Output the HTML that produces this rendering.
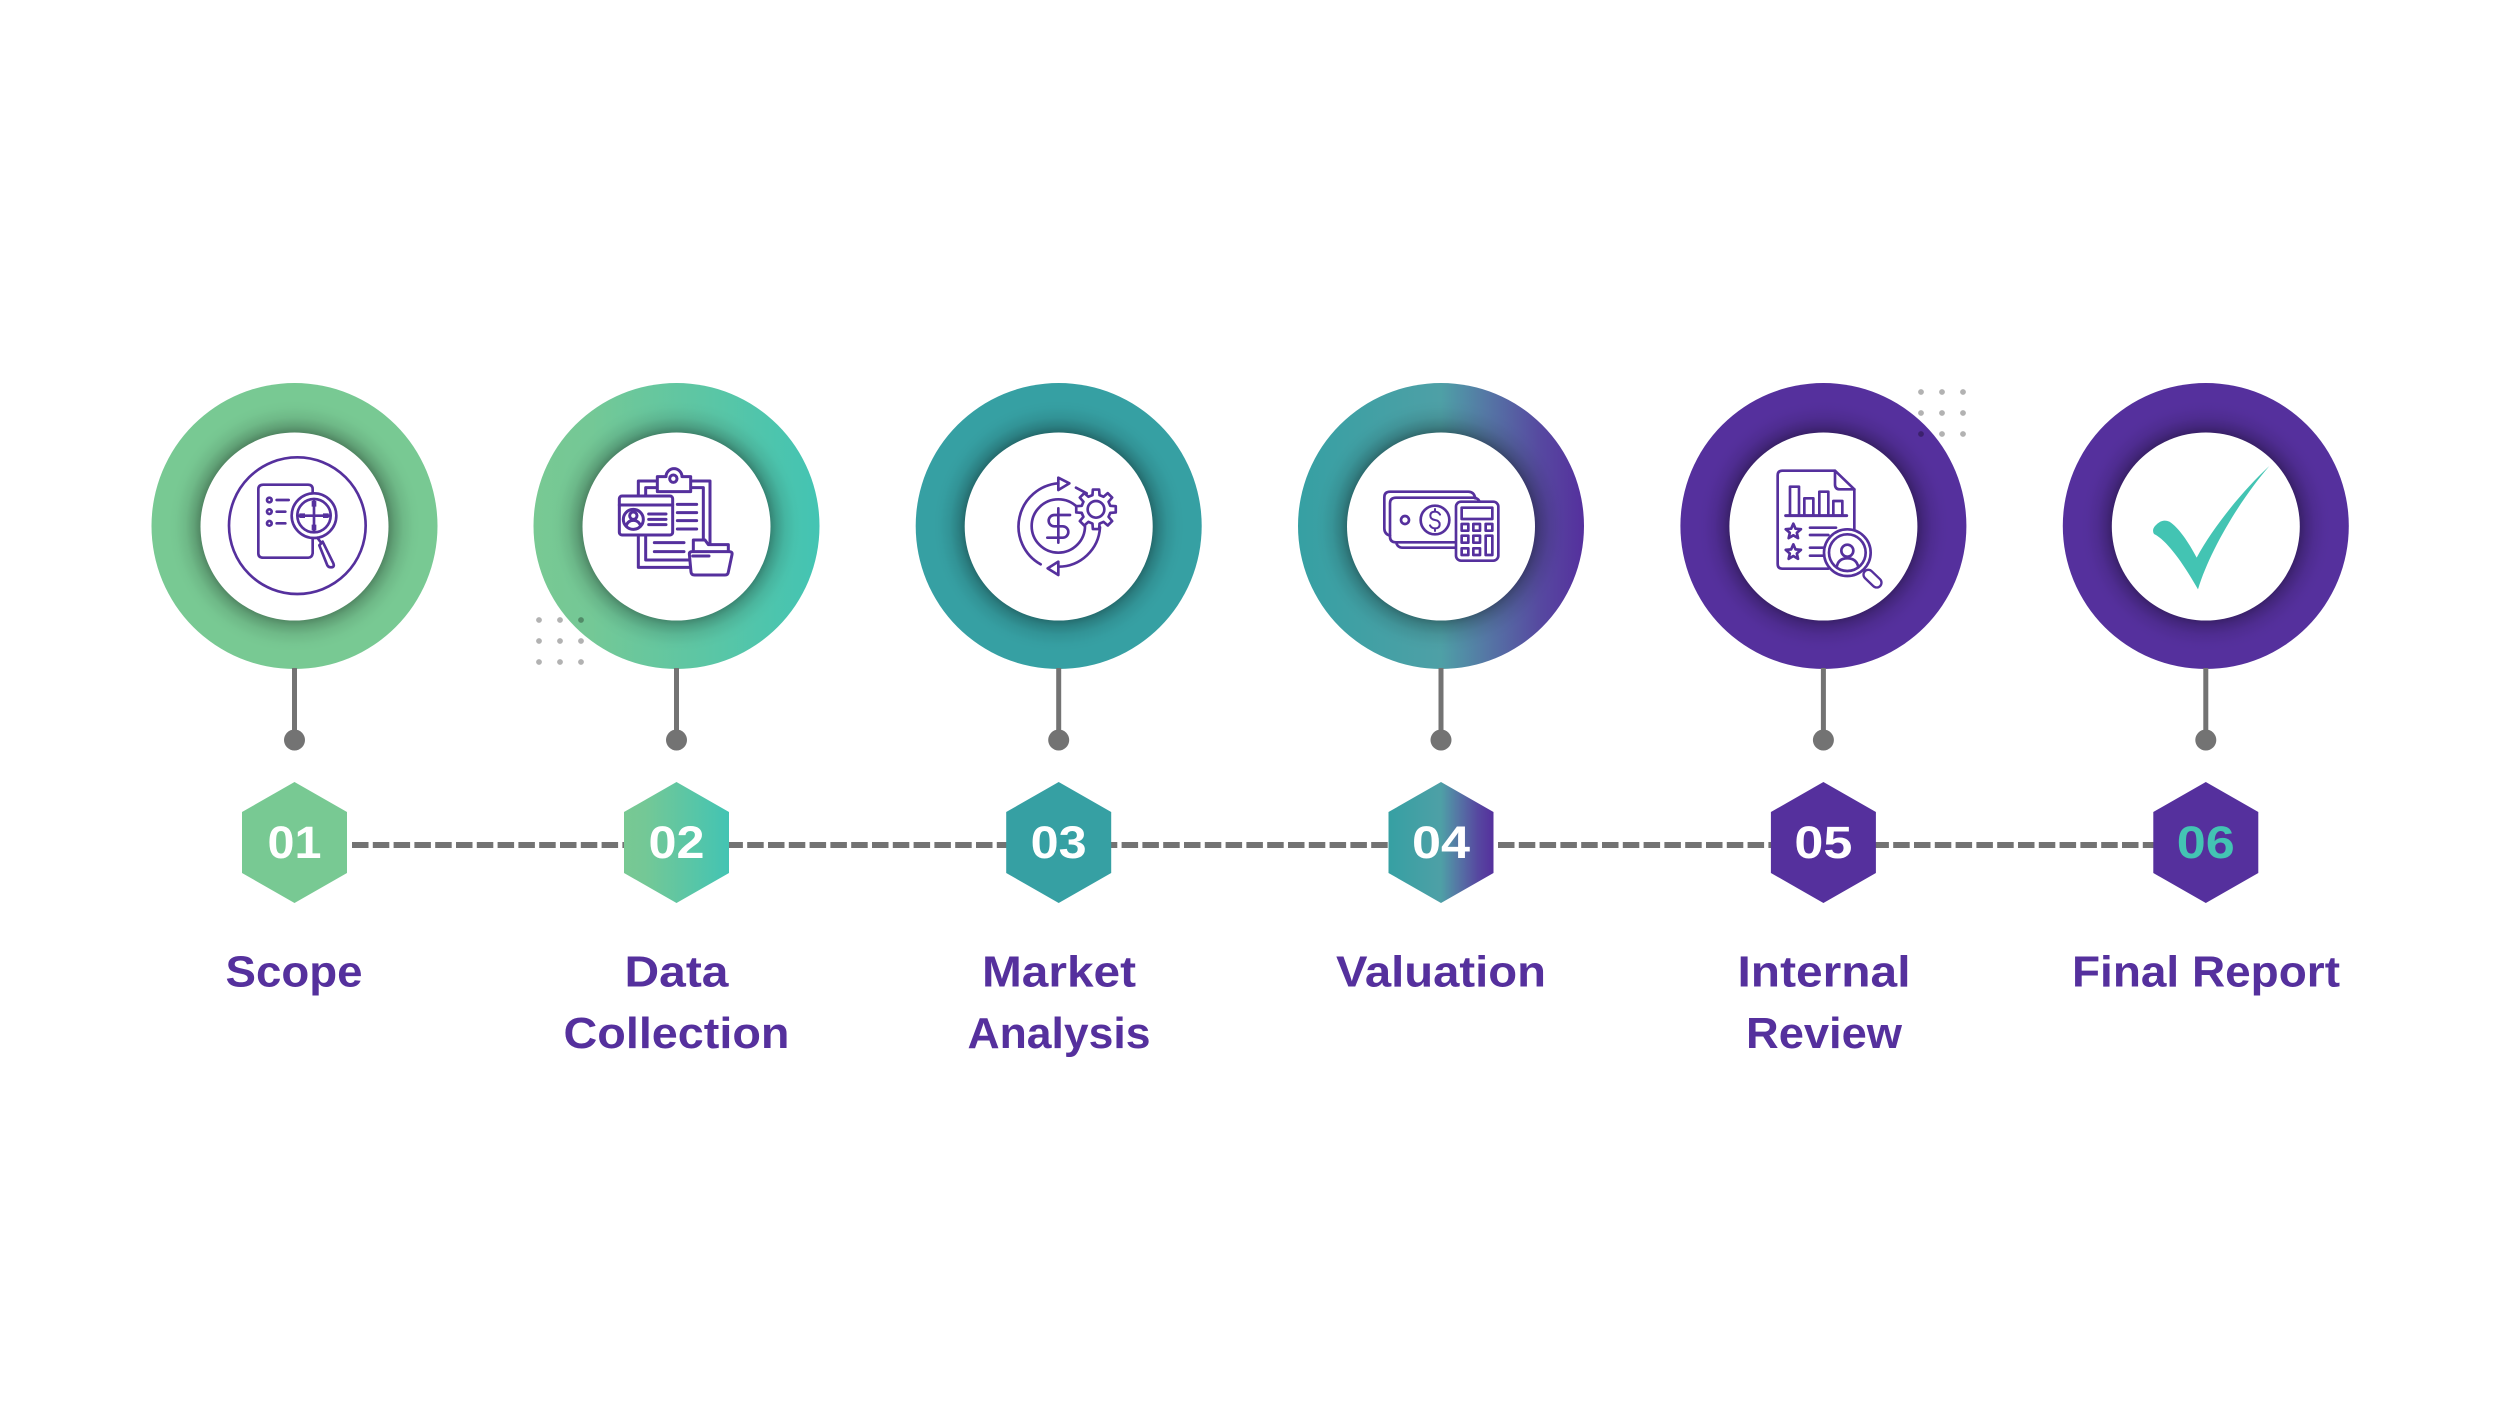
<!DOCTYPE html>
<html lang="en">
<head>
<meta charset="utf-8">
<title>Process timeline</title>
<style>
html,body{margin:0;padding:0;background:#fff;width:2500px;height:1406px;overflow:hidden}
svg{display:block}
text{font-family:"Liberation Sans",sans-serif;font-weight:700;text-anchor:middle}
.l{font-size:44px;fill:#55309d}
.n{font-size:45px;fill:#fff}
.i{fill:none;stroke:#55309d;stroke-width:8;stroke-linecap:round;stroke-linejoin:round}
.w{fill:#fff}
</style>
</head>
<body>
<svg width="2500" height="1406" viewBox="0 0 2500 1406" xmlns="http://www.w3.org/2000/svg">
<defs>
<linearGradient id="g2" x1="0" y1="0" x2="1" y2="0"><stop offset="0" stop-color="#78c993"/><stop offset=".2" stop-color="#74c896"/><stop offset="1" stop-color="#43c4b3"/></linearGradient>
<linearGradient id="g4" x1="0" y1="0" x2="1" y2="0"><stop offset="0" stop-color="#36a0a3"/><stop offset=".5" stop-color="#4ea0a6"/><stop offset=".66" stop-color="#5577a5"/><stop offset=".85" stop-color="#5648a0"/><stop offset="1" stop-color="#55309d"/></linearGradient>
<radialGradient id="sh"><stop offset=".657" stop-color="#000" stop-opacity=".33"/><stop offset=".7" stop-color="#000" stop-opacity=".2"/><stop offset=".76" stop-color="#000" stop-opacity=".08"/><stop offset=".83" stop-color="#000" stop-opacity=".015"/><stop offset=".88" stop-color="#000" stop-opacity="0"/></radialGradient>
</defs>

<!-- dashed line -->
<line x1="352" y1="845" x2="1392" y2="845" stroke="#737373" stroke-width="6" stroke-dasharray="16.5 4.3"/>
<line x1="1498" y1="845" x2="2155" y2="845" stroke="#737373" stroke-width="6" stroke-dasharray="16.5 4.3"/>

<!-- rings -->
<g>
<circle cx="294.5" cy="526" r="143" fill="#78c993"/><circle cx="294.5" cy="526" r="143" fill="url(#sh)"/><circle cx="294.5" cy="526.5" r="94" fill="#fff"/>
<circle cx="676.5" cy="526" r="143" fill="url(#g2)"/><circle cx="676.5" cy="526" r="143" fill="url(#sh)"/><circle cx="676.5" cy="526.5" r="94" fill="#fff"/>
<circle cx="1058.7" cy="526" r="143" fill="#36a0a3"/><circle cx="1058.7" cy="526" r="143" fill="url(#sh)"/><circle cx="1058.7" cy="526.5" r="94" fill="#fff"/>
<circle cx="1441" cy="526" r="143" fill="url(#g4)"/><circle cx="1441" cy="526" r="143" fill="url(#sh)"/><circle cx="1441" cy="526.5" r="94" fill="#fff"/>
<circle cx="1823.4" cy="526" r="143" fill="#55309d"/><circle cx="1823.4" cy="526" r="143" fill="url(#sh)"/><circle cx="1823.4" cy="526.5" r="94" fill="#fff"/>
<circle cx="2205.8" cy="526" r="143" fill="#55309d"/><circle cx="2205.8" cy="526" r="143" fill="url(#sh)"/><circle cx="2205.8" cy="526.5" r="94" fill="#fff"/>
</g>

<!-- stems -->
<g stroke="#737373" stroke-width="5"><line x1="294.5" y1="668" x2="294.5" y2="738"/><line x1="676.5" y1="668" x2="676.5" y2="738"/><line x1="1058.7" y1="668" x2="1058.7" y2="738"/><line x1="1441" y1="668" x2="1441" y2="738"/><line x1="1823.4" y1="668" x2="1823.4" y2="738"/><line x1="2205.8" y1="668" x2="2205.8" y2="738"/></g>
<g fill="#737373"><circle cx="294.5" cy="740" r="10.5"/><circle cx="676.5" cy="740" r="10.5"/><circle cx="1058.7" cy="740" r="10.5"/><circle cx="1441" cy="740" r="10.5"/><circle cx="1823.4" cy="740" r="10.5"/><circle cx="2205.8" cy="740" r="10.5"/></g>

<!-- dot grids -->
<g fill="#000" fill-opacity=".3">
<circle cx="539" cy="620" r="2.9"/><circle cx="560" cy="620" r="2.9"/><circle cx="581" cy="620" r="2.9"/>
<circle cx="539" cy="641" r="2.9"/><circle cx="560" cy="641" r="2.9"/><circle cx="581" cy="641" r="2.9"/>
<circle cx="539" cy="662" r="2.9"/><circle cx="560" cy="662" r="2.9"/><circle cx="581" cy="662" r="2.9"/>
<circle cx="1921" cy="392" r="2.9"/><circle cx="1942" cy="392" r="2.9"/><circle cx="1963" cy="392" r="2.9"/>
<circle cx="1921" cy="413" r="2.9"/><circle cx="1942" cy="413" r="2.9"/><circle cx="1963" cy="413" r="2.9"/>
<circle cx="1921" cy="434" r="2.9"/><circle cx="1942" cy="434" r="2.9"/><circle cx="1963" cy="434" r="2.9"/>
</g>

<!-- hexagons -->
<polygon points="294.5,782 347,812 347,873 294.5,903 242,873 242,812" fill="#78c993"/>
<polygon points="676.5,782 729,812 729,873 676.5,903 624,873 624,812" fill="url(#g2)"/>
<polygon points="1058.7,782 1111.2,812 1111.2,873 1058.7,903 1006.2,873 1006.2,812" fill="#36a0a3"/>
<polygon points="1441,782 1493.5,812 1493.5,873 1441,903 1388.5,873 1388.5,812" fill="url(#g4)"/>
<polygon points="1823.4,782 1875.9,812 1875.9,873 1823.4,903 1770.9,873 1770.9,812" fill="#55309d"/>
<polygon points="2205.8,782 2258.3,812 2258.3,873 2205.8,903 2153.3,873 2153.3,812" fill="#55309d"/>

<!-- numbers -->
<text class="n" x="294.5" y="858" textLength="54" lengthAdjust="spacingAndGlyphs">01</text>
<text class="n" x="676.5" y="858" textLength="56" lengthAdjust="spacingAndGlyphs">02</text>
<text class="n" x="1058.7" y="858" textLength="56" lengthAdjust="spacingAndGlyphs">03</text>
<text class="n" x="1441" y="858" textLength="58" lengthAdjust="spacingAndGlyphs">04</text>
<text class="n" x="1823.4" y="858" textLength="58" lengthAdjust="spacingAndGlyphs">05</text>
<text class="n" x="2205.8" y="858" textLength="58" lengthAdjust="spacingAndGlyphs" style="fill:#43c4b3">06</text>

<!-- labels -->
<text class="l" x="294" y="986.5" textLength="137" lengthAdjust="spacingAndGlyphs">Scope</text>
<text class="l" x="676.5" y="986.5" textLength="104" lengthAdjust="spacingAndGlyphs">Data</text>
<text class="l" x="676.5" y="1048" textLength="226" lengthAdjust="spacingAndGlyphs">Collection</text>
<text class="l" x="1059" y="986.5" textLength="154" lengthAdjust="spacingAndGlyphs">Market</text>
<text class="l" x="1059" y="1048" textLength="183" lengthAdjust="spacingAndGlyphs">Analysis</text>
<text class="l" x="1441" y="986.5" textLength="210" lengthAdjust="spacingAndGlyphs">Valuation</text>
<text class="l" x="1824" y="986.5" textLength="173" lengthAdjust="spacingAndGlyphs">Internal</text>
<text class="l" x="1824" y="1048" textLength="156" lengthAdjust="spacingAndGlyphs">Review</text>
<text class="l" x="2206" y="986.5" textLength="268" lengthAdjust="spacingAndGlyphs">Final Report</text>

<!-- icon 1 -->
<g transform="translate(210 440) scale(.33333)" class="i">
<circle cx="262" cy="257" r="205"/>
<path d="M308 160V148Q308 134 294 134H160Q145 134 145 148V340Q145 353 160 353H295Q306 353 308 340V296"/>
<circle cx="178" cy="180" r="7"/><circle cx="178" cy="215" r="7"/><circle cx="178" cy="250" r="7"/>
<path d="M200 180H236M200 215H226M200 250H226"/>
<circle cx="312" cy="227" r="67" class="w"/><circle cx="312" cy="227" r="50"/>
<path d="M312 180V275M265 227H358"/>
<path d="M312 183V200M312 254V271M268 227H285M339 227H356" stroke-width="14" stroke-linecap="butt"/>
<path d="M322 293L336 312"/>
<path d="M338 305L370 370Q375 382 362 382Q356 382 352 376L328 316Z" class="w"/>
</g>

<!-- icon 2 -->
<g transform="translate(600 450) scale(.33333)" class="i" style="stroke-width:9">
<path d="M172 93H115V352H285M272 93H330V280"/>
<path d="M172 113H137V330H270M272 113H310V270"/>
<path d="M172 80H198A24 24 0 0 1 246 80H272V125H172Z" class="w"/>
<circle cx="220" cy="86" r="11"/>
<rect x="58" y="138" width="160" height="117" rx="8" class="w"/>
<path d="M58 165H218"/>
<circle cx="100" cy="208" r="30"/><circle cx="100" cy="197" r="11"/><path d="M78 228Q84 211 100 211Q116 211 122 228"/>
<path d="M146 192H198M146 208H198M146 224H198"/>
<path d="M232 163H290M232 188H290M232 212H290M232 237H290M163 278H252M163 305H252"/>
<path d="M280 300V270H315L325 284H385V300" class="w"/>
<path d="M268 312Q268 305 276 305H388Q398 305 396 314L385 366Q384 375 375 375H284Q274 375 273 366Z" class="w"/>
<path d="M278 318H327"/>
</g>

<!-- icon 3 -->
<g transform="translate(990 450) scale(.33333)" class="i">
<path d="M152 343A130 130 0 0 1 205 100"/>
<path d="M205 83L238 100L205 120Z"/>
<path d="M258 113L290 130"/>
<circle cx="205" cy="228" r="80"/>
<path d="M240 195H193A17 17 0 0 0 193 229H218A17 17 0 0 1 218 263H172M205 175V278"/>
<path d="M330 232A125 125 0 0 1 205 350"/>
<path d="M205 335L173 355L205 375Z"/>
<g transform="translate(318 178)">
<polygon class="w" points="42.7,-10.6 59.3,-9.4 59.3,9.4 42.7,10.6 37.7,22.7 48.5,35.3 35.3,48.5 22.7,37.7 10.6,42.7 9.4,59.3 -9.4,59.3 -10.6,42.7 -22.7,37.7 -35.3,48.5 -48.5,35.3 -37.7,22.7 -42.7,10.6 -59.3,9.4 -59.3,-9.4 -42.7,-10.6 -37.7,-22.7 -48.5,-35.3 -35.3,-48.5 -22.7,-37.7 -10.6,-42.7 -9.4,-59.3 9.4,-59.3 10.6,-42.7 22.7,-37.7 35.3,-48.5 48.5,-35.3 37.7,-22.7"/>
<circle r="25"/>
</g>
</g>

<!-- icon 4 -->
<g transform="translate(1370 470) scale(.33333)" class="i">
<path d="M60 197Q43 192 43 175V82Q43 65 60 65H295Q312 65 316 85"/>
<path d="M258 217H78Q60 217 60 200V100Q60 83 78 83H310Q325 83 330 98"/>
<path d="M80 222Q85 233 98 233H258"/>
<circle cx="105" cy="150" r="12"/><circle cx="195" cy="150" r="43"/>
<path d="M210 134Q205 125 195 125Q181 125 181 137Q181 148 195 150Q209 152 209 163Q209 175 195 175Q185 175 180 166M195 117V125M195 175V183" stroke-width="6"/>
<rect x="258" y="95" width="127" height="177" rx="15" class="w"/>
<rect x="275" y="113" width="92" height="34"/>
<rect x="275" y="162" width="20" height="20"/><rect x="310" y="162" width="20" height="20"/><rect x="347" y="162" width="20" height="20"/>
<rect x="275" y="197" width="20" height="21"/><rect x="310" y="197" width="20" height="21"/><rect x="347" y="197" width="20" height="58"/>
<rect x="275" y="235" width="20" height="20"/><rect x="310" y="235" width="20" height="20"/>
</g>

<!-- icon 5 -->
<g transform="translate(1760 450) scale(.33333)" class="i">
<path d="M283 118V245M225 62H67Q53 62 53 76V342Q53 356 67 356H205"/>
<path d="M225 62L283 118H240Q225 118 225 103Z"/>
<rect x="90" y="110" width="27" height="87"/><rect x="133" y="145" width="27" height="52"/><rect x="178" y="125" width="27" height="72"/><rect x="220" y="153" width="27" height="44"/>
<path d="M77 197H260" stroke-width="9"/>
<polygon transform="translate(100 245)" points="0,-24 6.5,-8.9 22.8,-7.4 10.5,3.4 14.1,19.4 0,11 -14.1,19.4 -10.5,3.4 -22.8,-7.4 -6.5,-8.9"/>
<polygon transform="translate(100 307)" points="0,-24 6.5,-8.9 22.8,-7.4 10.5,3.4 14.1,19.4 0,11 -14.1,19.4 -10.5,3.4 -22.8,-7.4 -6.5,-8.9"/>
<path d="M150 233H228M150 255H205M150 293H195M150 317H190"/>
<line x1="325" y1="374" x2="350" y2="398" stroke-width="36"/>
<line x1="325" y1="374" x2="350" y2="398" stroke="#fff" stroke-width="22"/>
<circle cx="262" cy="308" r="70" class="w"/><circle cx="262" cy="308" r="55"/>
<circle cx="262" cy="302" r="18"/><path d="M230 352Q234 325 262 325Q290 325 295 352"/>
</g>

<!-- icon 6 -->
<g transform="translate(2130 450) scale(.33333)">
<path fill="#43c4b3" d="M418 48C340 120 250 230 200 323C175 275 145 232 118 215Q95 205 75 228Q65 240 72 252C110 270 160 340 204 418C240 300 330 150 418 48Z"/>
</g>
</svg>
</body>
</html>
